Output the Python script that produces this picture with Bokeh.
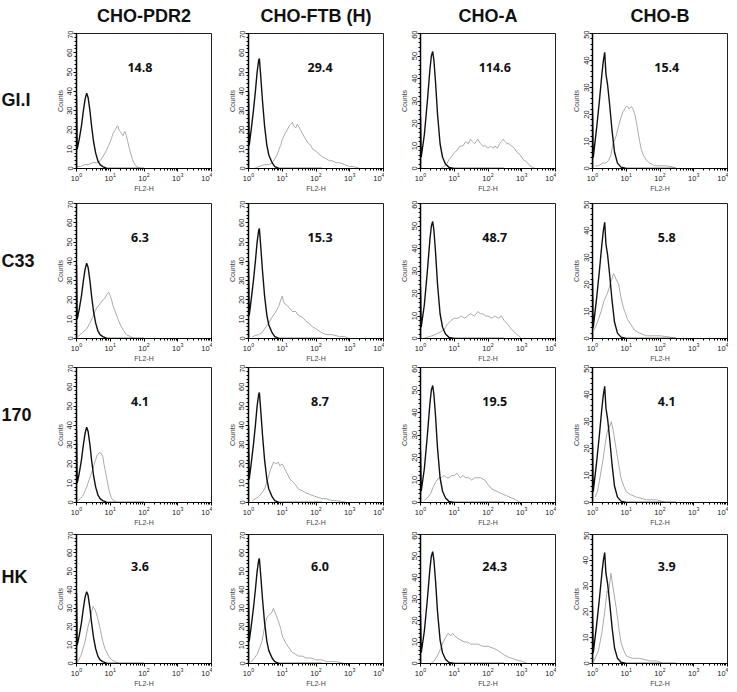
from bokeh.plotting import figure
from bokeh.layouts import column, row
from bokeh.models import Range1d, SingleIntervalTicker, LogTicker
from bokeh.embed import file_html
from bokeh.resources import INLINE
from bokeh.core.properties import value

# ---------------- data ----------------
col_names = ["CHO-PDR2", "CHO-FTB (H)", "CHO-A", "CHO-B"]
row_names = ["GI.I", "C33", "170", "HK"]
y_max = [70, 70, 60, 50]

mfi_gi = ["14.8", "29.4", "114.6", "15.4"]
mfi_c33 = ["6.3", "15.3", "48.7", "5.8"]
mfi_170 = ["4.1", "8.7", "19.5", "4.1"]
mfi_hk = ["3.6", "6.0", "24.3", "3.9"]

# control (black) histograms, one per cell line
ctrl_pdr2_x = [1, 1, 1.05, 1.2, 1.4, 1.6, 1.8, 2.0, 2.2, 2.5, 2.8, 3.2, 3.7, 4.3, 5, 6, 8, 10, 100]
ctrl_pdr2_y = [0, 38, 10, 15, 22, 30, 36, 39, 37, 30, 22, 14, 8, 4, 2, 1, 0, 0, 0]
ctrl_ftb_x = [1, 1, 1.05, 1.2, 1.4, 1.6, 1.8, 2.0, 2.1, 2.3, 2.6, 3, 3.5, 4, 5, 6, 8, 10, 150]
ctrl_ftb_y = [0, 40, 12, 20, 30, 40, 50, 56, 57, 48, 35, 22, 12, 7, 3, 1, 0, 0, 0]
ctrl_a_x = [1, 1, 1.05, 1.3, 1.6, 1.9, 2.1, 2.3, 2.5, 2.8, 3.2, 3.8, 4.5, 5.5, 7, 10, 300]
ctrl_a_y = [0, 23, 5, 15, 30, 44, 50, 52, 48, 38, 24, 11, 5, 2, 0.5, 0, 0]
ctrl_b_x = [1, 1, 1.05, 1.3, 1.6, 1.9, 2.1, 2.3, 2.5, 2.8, 3.2, 3.8, 4.5, 5.5, 7, 10, 300]
ctrl_b_y = [0, 22, 4, 14, 25, 35, 40, 43, 35, 31, 24, 14, 6, 2, 0.5, 0, 0]

# stained (gray) histograms
gi_pdr2_x = [1, 1.3, 1.7, 2.2, 3, 4, 5, 6, 7, 8, 9, 10, 11, 12, 13, 14, 15, 16, 17, 18, 20, 22, 24, 26, 28, 30, 33, 36, 40, 45, 50, 60, 70, 80, 100]
gi_pdr2_y = [1, 1, 2, 2, 3, 3, 4, 6, 8, 10, 12, 14, 16, 18, 19, 20, 21, 22, 22, 20, 19, 18, 17, 19, 19, 17, 14, 11, 8, 5, 3, 1, 0.5, 0, 0]
gi_ftb_x = [1.5, 2, 3, 4, 5, 6, 7, 8, 9, 10, 12, 14, 16, 18, 20, 22, 25, 28, 30, 35, 40, 50, 60, 70, 80, 100, 130, 160, 200, 250, 300, 400, 500, 700, 1000, 1300, 2000]
gi_ftb_y = [0, 1, 2, 2, 3, 5, 7, 10, 12, 15, 18, 20, 22, 23, 24, 22, 21, 23, 22, 20, 18, 15, 13, 12, 10, 9, 7, 6, 5, 4, 4, 3, 3, 2, 1, 1, 0]
gi_a_x = [4, 5, 6, 7, 8, 10, 12, 15, 18, 22, 26, 30, 35, 40, 45, 50, 60, 70, 85, 100, 120, 140, 160, 190, 220, 250, 280, 320, 360, 420, 500, 600, 750, 900, 1100, 1400, 1800, 2500]
gi_a_y = [0, 1, 2, 4, 5, 7, 8, 10, 10, 12, 11, 13, 12, 11, 12, 13, 11, 10, 10, 9, 10, 9, 10, 9, 11, 12, 13, 12, 11, 11, 10, 9, 7, 6, 4, 3, 1, 0]
gi_b_x = [1.2, 1.5, 2, 2.5, 3, 3.5, 4, 5, 6, 7, 8, 9, 10, 11, 12, 14, 16, 18, 20, 22, 25, 28, 32, 40, 50, 70, 100, 150, 250, 300]
gi_b_y = [1, 1, 2, 2, 3, 5, 9, 12, 16, 19, 21, 22, 23, 23, 22, 23, 22, 20, 17, 14, 10, 7, 5, 3, 2, 1, 1, 1, 0.5, 0]

c33_pdr2_x = [1.1, 1.5, 2, 2.5, 3, 3.5, 4, 5, 6, 7, 8, 9, 10, 11, 12, 14, 17, 20, 25, 30, 40, 50]
c33_pdr2_y = [1, 3, 5, 8, 11, 14, 16, 18, 20, 21, 23, 24, 22, 20, 17, 14, 10, 7, 4, 2, 1, 0]
c33_ftb_x = [1.3, 2, 2.5, 3, 4, 5, 6, 7, 8, 9, 10, 11, 12, 14, 16, 20, 25, 30, 40, 50, 60, 80, 100, 150, 200, 300, 500, 700, 1000]
c33_ftb_y = [1, 2, 3, 5, 8, 11, 13, 15, 17, 20, 22, 19, 18, 17, 16, 14, 14, 12, 11, 9, 8, 6, 5, 3, 2, 2, 1, 1, 0]
c33_a_x = [1.2, 2, 3, 4, 5, 6, 8, 10, 13, 16, 20, 25, 30, 40, 50, 60, 70, 85, 100, 130, 160, 200, 250, 300, 400, 500, 700, 1000]
c33_a_y = [0, 1, 2, 3, 4, 6, 8, 9, 9, 10, 9, 10, 11, 10, 12, 11, 11, 10, 10, 9, 10, 9, 10, 8, 6, 4, 2, 0]
c33_b_x = [1.1, 1.4, 1.8, 2.2, 2.6, 3, 3.5, 4.2, 5, 6, 7, 8, 9, 11, 14, 18, 25, 40, 60, 100, 200, 300]
c33_b_y = [3, 6, 10, 14, 16, 18, 21, 24, 22, 20, 15, 12, 10, 7, 5, 3, 2, 1, 1, 1, 0.5, 0]

r170_pdr2_x = [1.1, 1.3, 1.6, 2, 2.4, 3, 3.5, 4.2, 5, 5.5, 6, 6.5, 7, 8, 9, 10, 11, 13, 15]
r170_pdr2_y = [1, 2, 4, 8, 12, 17, 21, 25, 26, 25, 24, 20, 17, 12, 7, 4, 2, 1, 0]
r170_ftb_x = [1.3, 2, 2.5, 3, 3.7, 4.5, 5.5, 6.5, 7.5, 8.5, 10, 11.5, 13, 15, 17, 20, 25, 30, 40, 50, 70, 100, 150, 200, 300, 400, 600, 800]
r170_ftb_y = [1, 3, 5, 7, 12, 17, 21, 20, 21, 19, 20, 18, 16, 14, 12, 11, 9, 7, 6, 5, 4, 3, 2, 2, 1, 1, 0.5, 0]
r170_a_x = [1.3, 1.6, 2, 2.4, 2.8, 3.5, 4.2, 5, 6, 7, 8.5, 10, 12, 15, 18, 22, 27, 33, 40, 50, 60, 80, 100, 130, 180, 250, 350, 500, 700, 900]
r170_a_y = [1, 2, 4, 7, 9, 11, 11, 12, 11, 11, 12, 12, 13, 11, 12, 11, 11, 10, 11, 11, 11, 10, 8, 6, 5, 4, 3, 2, 1, 0]
r170_b_x = [1.2, 1.4, 1.6, 2, 2.4, 2.8, 3.2, 3.6, 4.2, 5, 6, 7, 8.5, 10, 13, 20, 40, 80, 150]
r170_b_y = [2, 4, 8, 15, 22, 27, 28, 30, 26, 20, 14, 9, 6, 4, 3, 2, 1, 1, 0]

hk_pdr2_x = [1.1, 1.4, 1.8, 2.2, 2.5, 2.8, 3.1, 3.6, 4.2, 5, 6, 7, 9, 11, 14, 18]
hk_pdr2_y = [1, 5, 12, 20, 24, 28, 31, 29, 25, 19, 12, 8, 4, 2, 1, 0]
hk_ftb_x = [1.2, 1.5, 1.8, 2.2, 2.5, 3, 3.5, 4, 4.5, 5, 5.5, 6, 7, 8, 9, 10, 12, 15, 20, 25, 30, 40, 50, 70, 100, 150, 200, 400, 700]
hk_ftb_y = [1, 3, 5, 9, 12, 20, 25, 26, 27, 28, 30, 28, 25, 22, 19, 15, 12, 9, 6, 5, 4, 4, 3, 3, 2, 2, 1, 1, 0]
hk_a_x = [2, 2.5, 3, 3.5, 4, 4.7, 5.5, 6.5, 8, 9, 10, 12, 15, 20, 25, 30, 40, 50, 70, 100, 150, 200, 300, 400, 600, 1000, 1500]
hk_a_y = [0, 1, 3, 5, 7, 10, 12, 14, 13, 14, 13, 12, 11, 10, 10, 9, 9, 9, 8, 8, 7, 6, 4, 3, 2, 1, 0]
hk_b_x = [1.1, 1.5, 1.9, 2.3, 2.7, 3, 3.5, 4, 5, 6, 7, 8.5, 10, 15, 25, 50, 80, 120]
hk_b_y = [1, 5, 12, 20, 28, 27, 35, 30, 22, 14, 8, 5, 3, 2, 2, 1, 1, 0]

ctrl_curves = [(ctrl_pdr2_x, ctrl_pdr2_y), (ctrl_ftb_x, ctrl_ftb_y),
               (ctrl_a_x, ctrl_a_y), (ctrl_b_x, ctrl_b_y)]
sample_curves = [
    [(gi_pdr2_x, gi_pdr2_y), (gi_ftb_x, gi_ftb_y), (gi_a_x, gi_a_y), (gi_b_x, gi_b_y)],
    [(c33_pdr2_x, c33_pdr2_y), (c33_ftb_x, c33_ftb_y), (c33_a_x, c33_a_y), (c33_b_x, c33_b_y)],
    [(r170_pdr2_x, r170_pdr2_y), (r170_ftb_x, r170_ftb_y), (r170_a_x, r170_a_y), (r170_b_x, r170_b_y)],
    [(hk_pdr2_x, hk_pdr2_y), (hk_ftb_x, hk_ftb_y), (hk_a_x, hk_a_y), (hk_b_x, hk_b_y)],
]
mfi_rows = [mfi_gi, mfi_c33, mfi_170, mfi_hk]

# ---------------- layout constants ----------------
LBL_W = 40
PW = 172
B_LEFT = 36
B_TOP = 3
FRAME_H = 135
HEAD_H = 30
row_heights = [170, 164, 167, 158]
label_x_frac = [0.47, 0.53, 0.55, 0.55]
row_label_offset = [13, -1, -12, -19]
AX_FONT = "Liberation Sans"


def panel(r, c):
    h = row_heights[r]
    ym = y_max[c]
    p = figure(width=PW, height=h, x_axis_type="log",
               x_range=Range1d(1, 1e4), y_range=Range1d(0, ym),
               output_backend="svg", toolbar_location=None,
               min_border_left=B_LEFT, min_border_right=1,
               min_border_top=B_TOP, min_border_bottom=h - B_TOP - FRAME_H)
    p.grid.visible = False
    p.outline_line_color = "#222222"
    p.outline_line_width = 1
    p.background_fill_color = "white"
    p.border_fill_color = "white"

    p.xaxis.ticker = LogTicker(desired_num_ticks=5, num_minor_ticks=10)
    p.yaxis.ticker = SingleIntervalTicker(interval=10, num_minor_ticks=5)
    for ax in (p.xaxis[0], p.yaxis[0]):
        ax.axis_line_color = "black"
        ax.major_tick_line_color = "black"
        ax.minor_tick_line_color = "black"
        ax.major_tick_in = 0
        ax.major_tick_out = 3
        ax.minor_tick_in = 0
        ax.minor_tick_out = 2
        ax.major_label_text_font = AX_FONT
        ax.major_label_text_font_size = "7.5px"
        ax.major_label_text_color = "#222222"
        ax.major_label_standoff = 1
        ax.axis_label_text_font = AX_FONT
        ax.axis_label_text_font_size = "7px"
        ax.axis_label_text_font_style = "normal"
        ax.axis_label_standoff = 1
    p.yaxis.axis_line_width = 1.5
    p.xaxis.axis_label = "FL2-H"
    p.yaxis.axis_label = "Counts"
    p.yaxis.major_label_orientation = "vertical"

    cx, cy = ctrl_curves[c]
    sx, sy = sample_curves[r][c]
    p.line(sx, sy, line_color="#ababab", line_width=1)
    p.line(cx, cy, line_color="#111111", line_width=1.4)

    xpos = 10 ** (4 * label_x_frac[c])
    p.text(x=[xpos], y=[ym * 0.75], text=[mfi_rows[r][c]],
           text_font=value("Open Sans"), text_font_style="bold",
           text_font_size="12.5px", text_align="center",
           text_baseline="middle", text_color="#111111")
    return p


def row_label(r):
    h = row_heights[r]
    p = figure(width=LBL_W, height=h, x_range=Range1d(0, LBL_W),
               y_range=Range1d(0, h), output_backend="svg",
               toolbar_location=None, min_border=0,
               x_axis_location=None, y_axis_location=None)
    p.grid.visible = False
    p.outline_line_color = None
    yc = h - (B_TOP + FRAME_H / 2 + row_label_offset[r])
    p.text(x=[1], y=[yc], text=[row_names[r]],
           text_font=value("Liberation Sans"), text_font_style="bold",
           text_font_size="18px", text_align="left",
           text_baseline="middle", text_color="#111111")
    return p


def header():
    tw = LBL_W + 4 * PW
    p = figure(width=tw, height=HEAD_H, x_range=Range1d(0, tw),
               y_range=Range1d(0, HEAD_H), output_backend="svg",
               toolbar_location=None, min_border=0,
               x_axis_location=None, y_axis_location=None)
    p.grid.visible = False
    p.outline_line_color = None
    xs = [LBL_W + B_LEFT + FRAME_H / 2 + i * PW for i in range(4)]
    p.text(x=xs, y=[HEAD_H - 15] * 4, text=col_names,
           text_font=value("Liberation Sans"), text_font_style="bold",
           text_font_size="18px", text_align="center",
           text_baseline="middle", text_color="#111111")
    return p


rows = [header()]
for r in range(4):
    rows.append(row([row_label(r)] + [panel(r, c) for c in range(4)], spacing=0))
layout = column(rows, spacing=0)

open("out.html", "w").write(file_html(layout, INLINE))
